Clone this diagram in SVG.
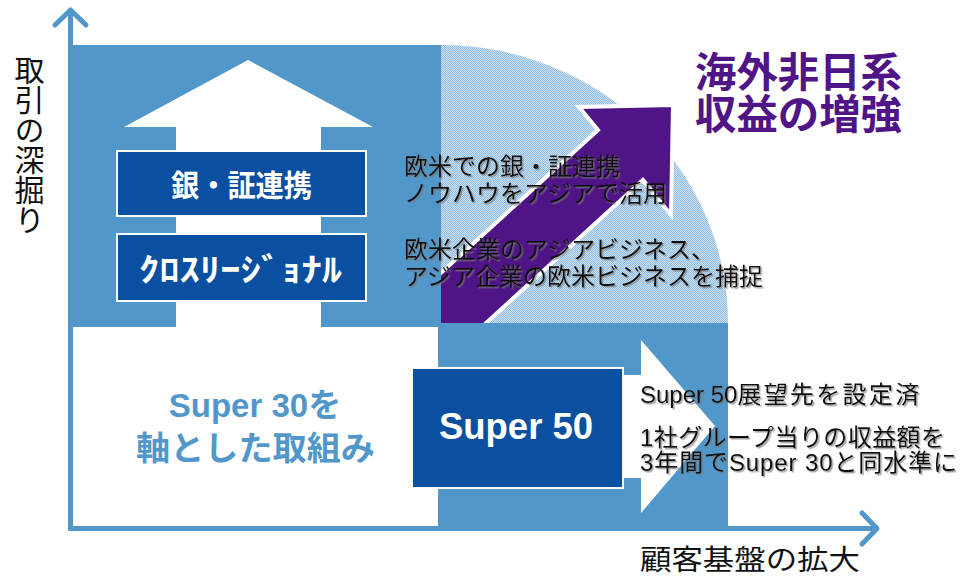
<svg xmlns="http://www.w3.org/2000/svg" width="964" height="576" viewBox="0 0 964 576">
<defs>
<style>
.blue{fill:#5197CA}
.dark{fill:#0B50A0;stroke:#FFFFFF;stroke-width:2}
.axis{fill:none;stroke:#5197CA;stroke-width:5;stroke-linecap:round;stroke-linejoin:round}
.jp{font-family:"Liberation Sans","Noto Sans CJK JP",sans-serif}
.wb{fill:#FFFFFF;font-weight:bold;text-anchor:middle}
.note{fill:#111111;font-size:24px;filter:url(#sh)}
.title{fill:#4F1586;font-size:41px;font-weight:bold}
</style>
<pattern id="hatch" width="2" height="2" patternUnits="userSpaceOnUse">
<rect width="2" height="2" fill="#CCE1F2"/>
<rect width="1" height="1" fill="#90BCE2"/>
<rect x="1" y="1" width="1" height="1" fill="#90BCE2"/>
</pattern>
<clipPath id="qclip"><rect x="441" y="0" width="300" height="323"/></clipPath>
<filter id="sh" x="-5%" y="-20%" width="110%" height="150%">
<feDropShadow dx="1.5" dy="1.5" stdDeviation="0.6" flood-color="#777777" flood-opacity="0.7"/>
</filter>
</defs>
<rect width="964" height="576" fill="#FFFFFF"/>

<g id="background">
<rect class="blue" x="68" y="45" width="373" height="481"/>
<rect class="blue" x="438" y="323" width="290" height="203"/>
<path d="M441,323 L441,45 A287,278 0 0 1 728,323 Z" fill="url(#hatch)"/>
<rect x="73" y="327" width="365" height="199" fill="#FFFFFF"/>
<polygon points="248,60 373,127 321,127 321,328 176,328 176,127 124,127" fill="#FFFFFF"/>
</g>

<g id="node-ginsho">
<rect class="dark" x="117" y="151" width="249" height="65"/>
<text class="jp wb" x="241.5" y="196" font-size="30" textLength="141" lengthAdjust="spacingAndGlyphs">銀・証連携</text>
</g>

<g id="node-crossregional">
<rect class="dark" x="117" y="234" width="249" height="67"/>
<text class="jp wb" x="240.5" y="281" font-size="32" textLength="203" lengthAdjust="spacingAndGlyphs">ｸﾛｽﾘｰｼﾞｮﾅﾙ</text>
</g>

<g id="node-purple-arrow" clip-path="url(#qclip)">
<polygon points="420,292 598,130 579,107 673,105 671,215 643,180 462,345 420,345" fill="#4F1586" stroke="#FFFFFF" stroke-width="4"/>
</g>

<g id="node-super50">
<polygon points="440,375 641,375 641,340 715,426 641,513 641,478 440,478" fill="#FFFFFF"/>
<rect class="dark" x="412" y="368" width="211" height="120" stroke-width="1.5"/>
<text class="jp wb" x="516" y="439" font-size="36" textLength="154" lengthAdjust="spacingAndGlyphs">Super 50</text>
</g>

<g id="node-super30">
<text class="jp" x="255" y="417" font-size="33" font-weight="bold" fill="#5197CA" text-anchor="middle">Super 30を</text>
<text class="jp" x="255.5" y="460" font-size="33" font-weight="bold" fill="#5197CA" text-anchor="middle" textLength="239" lengthAdjust="spacingAndGlyphs">軸とした取組み</text>
</g>

<g id="connectors">
<line class="axis" x1="70.5" y1="12" x2="70.5" y2="528.5"/>
<polyline class="axis" points="55,25 70.5,10 86,25"/>
<line class="axis" x1="70.5" y1="528.5" x2="875" y2="528.5"/>
<polyline class="axis" points="862,513 877,528.5 862,544"/>
</g>

<g id="labels">
<text class="jp" x="27" y="55" font-size="30" fill="#111111" writing-mode="vertical-rl">取引の深掘り</text>
<text class="jp" x="640" y="570" font-size="28" fill="#111111" textLength="220" lengthAdjust="spacingAndGlyphs">顧客基盤の拡大</text>
<text class="jp title" x="695" y="87" textLength="207" lengthAdjust="spacingAndGlyphs">海外非日系</text>
<text class="jp title" x="695" y="129" textLength="207" lengthAdjust="spacingAndGlyphs">収益の増強</text>
<text class="jp note" x="404" y="175">欧米での銀・証連携</text>
<text class="jp note" x="404" y="202">ノウハウをアジアで活用</text>
<text class="jp note" x="404" y="258">欧米企業のアジアビジネス、</text>
<text class="jp note" x="404" y="285">アジア企業の欧米ビジネスを捕捉</text>
<text class="jp note" x="640" y="403">Super 50<tspan letter-spacing="2.3">展望先を設定済</tspan></text>
<text class="jp note" x="640" y="446" textLength="305">1社グループ当りの収益額を</text>
<text class="jp note" x="640" y="471" textLength="317">3年間でSuper 30と同水準に</text>
</g>
</svg>
